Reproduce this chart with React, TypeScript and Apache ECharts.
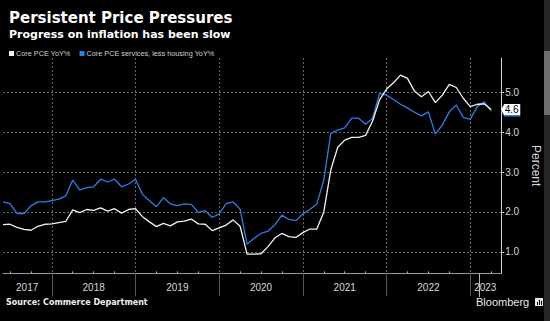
import React, { useEffect, useRef } from "react";
import * as echarts from "echarts";

const TITLE = "Persistent Price Pressures";
const SUBTITLE = "Progress on inflation has been slow";
const SOURCE = "Source: Commerce Department";
const BRAND = "Bloomberg";
const SERIES_NAMES = ["Core PCE YoY%", "Core PCE services, less housing YoY%"];
const Y_NAME = "Percent";

// monthly observations, first = May 2017 (plotted at month end)
const START_YEAR = 2017;
const START_MONTH = 5;

const CORE_PCE = [
  1.68, 1.69, 1.61, 1.56, 1.54, 1.64, 1.69, 1.70, 1.73, 1.76,
  2.05, 1.98, 2.06, 2.04, 2.10, 2.02, 2.08, 1.97, 2.06, 2.08,
  1.88, 1.75, 1.63, 1.71, 1.65, 1.75, 1.77, 1.82, 1.70, 1.69,
  1.53, 1.60, 1.67, 1.80, 1.64, 0.94, 0.94, 0.95, 1.13, 1.35,
  1.46, 1.38, 1.36, 1.48, 1.57, 1.57, 2.00, 3.05, 3.62, 3.80,
  3.87, 3.87, 3.92, 4.28, 4.81, 5.08, 5.24, 5.43, 5.35, 5.03,
  4.89, 5.02, 4.74, 4.93, 5.20, 5.12, 4.85, 4.64, 4.70, 4.71,
  4.57,
];

const SERVICES_EX_HOUSING = [
  2.25, 2.21, 1.96, 1.96, 2.15, 2.25, 2.25, 2.28, 2.32, 2.40,
  2.80, 2.55, 2.61, 2.63, 2.82, 2.75, 2.82, 2.63, 2.70, 2.82,
  2.44, 2.28, 2.13, 2.36, 2.20, 2.16, 2.20, 2.19, 1.99, 2.03,
  1.86, 1.95, 2.21, 2.25, 2.07, 1.19, 1.34, 1.46, 1.52, 1.68,
  1.92, 1.81, 1.78, 1.95, 2.06, 2.20, 2.80, 3.97, 4.05, 4.11,
  4.35, 4.35, 4.20, 4.35, 4.97, 4.93, 4.82, 4.70, 4.61, 4.50,
  4.41, 4.51, 3.95, 4.18, 4.51, 4.68, 4.37, 4.32, 4.64, 4.76,
  4.53,
];

const YEAR_BOUNDARIES = [2018, 2019, 2020, 2021, 2022, 2023];
const YEAR_LABEL_POS = [2017.705, 2018.5, 2019.5, 2020.5, 2021.5, 2022.5, 2023.18];
const Y_TICKS = [1, 2, 3, 4, 5];

const X_MIN = START_YEAR + START_MONTH / 12;
const X_MAX = 2023.37;
const Y_MIN = 0.46;
const Y_MAX = 5.86;

const monthX = (i: number) => START_YEAR + (START_MONTH + i) / 12;

const QUARTER_TICKS: number[] = [];
for (let y = 2017; y <= 2023; y++) {
  for (const q of [0.25, 0.5, 0.75]) {
    const v = y + q;
    if (v > X_MIN && v < X_MAX) QUARTER_TICKS.push(v);
  }
}

const WHITE = "#f2f2f2";
const BLUE = "#2c7fe6";
const GRID = "#6a6a6a";
const TAG_PATH = "path://M0,5L3,0L19,0L19,10L3,10Z";

export default function App() {
  const ref = useRef<HTMLDivElement>(null);

  useEffect(() => {
    if (!ref.current) return;
    const chart = echarts.init(ref.current, null, { renderer: "svg" });
    const whiteData = CORE_PCE.map((v, i) => [monthX(i), v]);
    const blueData = SERVICES_EX_HOUSING.map((v, i) => [monthX(i), v]);
    const lastWhite = CORE_PCE[CORE_PCE.length - 1];
    const lastBlue = SERVICES_EX_HOUSING[SERVICES_EX_HOUSING.length - 1];

    chart.setOption({
      animation: false,
      backgroundColor: "#000",
      title: [
        {
          text: TITLE,
          left: 4,
          top: 5,
          textStyle: { color: "#fff", fontSize: 15, fontWeight: "bold", fontFamily: "DejaVu Sans" },
        },
        {
          text: SUBTITLE,
          left: 4,
          top: 24,
          textStyle: { color: "#fff", fontSize: 11, fontWeight: "bold", fontFamily: "DejaVu Sans" },
        },
      ],
      legend: {
        left: 4,
        top: 45,
        icon: "rect",
        itemWidth: 5,
        itemHeight: 5,
        itemGap: 9,
        data: SERIES_NAMES,
        textStyle: { color: "#d0d0d0", fontSize: 7.3, fontFamily: "Liberation Sans", padding: [0, 0, 0, -3] },
      },
      grid: { left: 3, right: 39.5, top: 58, bottom: 47.7 },
      xAxis: [
        {
          type: "value",
          position: "bottom",
          min: X_MIN,
          max: X_MAX,
          axisLine: { show: true, lineStyle: { color: "#9a9a9a", width: 1 } },
          axisTick: {
            show: true,
            customValues: YEAR_BOUNDARIES,
            inside: false,
            length: 23,
            lineStyle: { color: "#555", width: 1 },
          },
          axisLabel: {
            show: true,
            customValues: YEAR_LABEL_POS,
            formatter: (v: number) => String(Math.floor(v)),
            color: "#d8d8d8",
            fontSize: 10,
            fontFamily: "Liberation Sans",
            margin: 9,
          },
          splitLine: {
            show: true,
            lineStyle: { color: GRID, type: [2, 2], width: 1 },
          },
        },
        {
          type: "value",
          position: "bottom",
          min: X_MIN,
          max: X_MAX,
          axisLine: { show: false },
          axisTick: {
            show: true,
            customValues: QUARTER_TICKS,
            inside: true,
            length: 2,
            lineStyle: { color: "#aaa", width: 1 },
          },
          axisLabel: { show: false },
          splitLine: { show: false },
        },
      ],
      yAxis: {
        type: "value",
        position: "right",
        min: Y_MIN,
        max: Y_MAX,
        name: Y_NAME,
        nameLocation: "middle",
        nameRotate: -90,
        nameGap: 26,
        nameTextStyle: { color: "#d8d8d8", fontSize: 12, fontFamily: "Liberation Sans" },
        axisLine: { show: true, lineStyle: { color: "#cfcfcf", width: 1 } },
        axisTick: {
          show: true,
          customValues: Y_TICKS,
          inside: false,
          length: 3,
          lineStyle: { color: "#cfcfcf" },
        },
        axisLabel: {
          show: true,
          customValues: Y_TICKS,
          formatter: (v: number) => v.toFixed(1),
          color: "#d8d8d8",
          fontSize: 10,
          fontFamily: "Liberation Sans",
          margin: 4,
        },
        splitLine: { show: true, lineStyle: { color: GRID, type: [2, 2], width: 1 } },
      },
      series: [
        {
          name: SERIES_NAMES[1],
          type: "line",
          xAxisIndex: 0,
          data: blueData,
          symbol: "none",
          z: 2,
          lineStyle: { color: BLUE, width: 1.3 },
          itemStyle: { color: BLUE },
          markPoint: {
            silent: true,
            symbol: TAG_PATH,
            symbolSize: [19, 11],
            symbolOffset: [9.5, 0],
            itemStyle: { color: BLUE },
            label: { show: false },
            data: [{ coord: [X_MAX, lastBlue], value: lastBlue }],
          },
        },
        {
          name: SERIES_NAMES[0],
          type: "line",
          xAxisIndex: 0,
          data: whiteData,
          symbol: "none",
          z: 3,
          lineStyle: { color: WHITE, width: 1.3 },
          itemStyle: { color: WHITE },
          markPoint: {
            silent: true,
            symbol: TAG_PATH,
            symbolSize: [19, 11],
            symbolOffset: [9.5, 0],
            itemStyle: { color: "#ffffff" },
            label: {
              show: true,
              position: "inside",
              offset: [1, 0],
              formatter: (p: any) => Number(p.value).toFixed(1),
              color: "#000",
              fontSize: 10,
              fontFamily: "Liberation Sans",
            },
            data: [{ coord: [X_MAX, lastWhite], value: lastWhite }],
          },
        },
      ],
      graphic: [
        { type: "rect", left: 544, top: 0, shape: { width: 6, height: 321 }, style: { fill: "#262626" }, silent: true },
        { type: "rect", left: 544, top: 51, shape: { width: 6, height: 64 }, style: { fill: "#6e6e6e" }, silent: true },
        { type: "rect", left: 479, top: 274, shape: { width: 1, height: 23 }, style: { fill: "#bdbdbd" }, silent: true },
        {
          type: "text",
          left: 6,
          top: 298,
          style: { text: SOURCE, fill: "#f0f0f0", fontSize: 8, fontWeight: "bold", fontFamily: "DejaVu Sans" },
          silent: true,
        },
        {
          type: "text",
          left: 476,
          top: 296,
          style: { text: BRAND, fill: "#e8e8e8", fontSize: 11, fontFamily: "Liberation Sans" },
          silent: true,
        },
        { type: "rect", left: 535, top: 298, shape: { width: 8, height: 8 }, style: { fill: "#e8e8e8" }, silent: true },
        { type: "rect", left: 537, top: 302, shape: { width: 1, height: 3 }, style: { fill: "#000" }, silent: true },
        { type: "rect", left: 539, top: 300, shape: { width: 1, height: 5 }, style: { fill: "#000" }, silent: true },
        { type: "rect", left: 541, top: 301, shape: { width: 1, height: 4 }, style: { fill: "#000" }, silent: true },
      ],
    });
    return () => chart.dispose();
  }, []);

  return (
    <div
      ref={ref}
      style={{ width: 550, height: 321, position: "absolute", left: 0, top: 0, background: "#000" }}
    />
  );
}
